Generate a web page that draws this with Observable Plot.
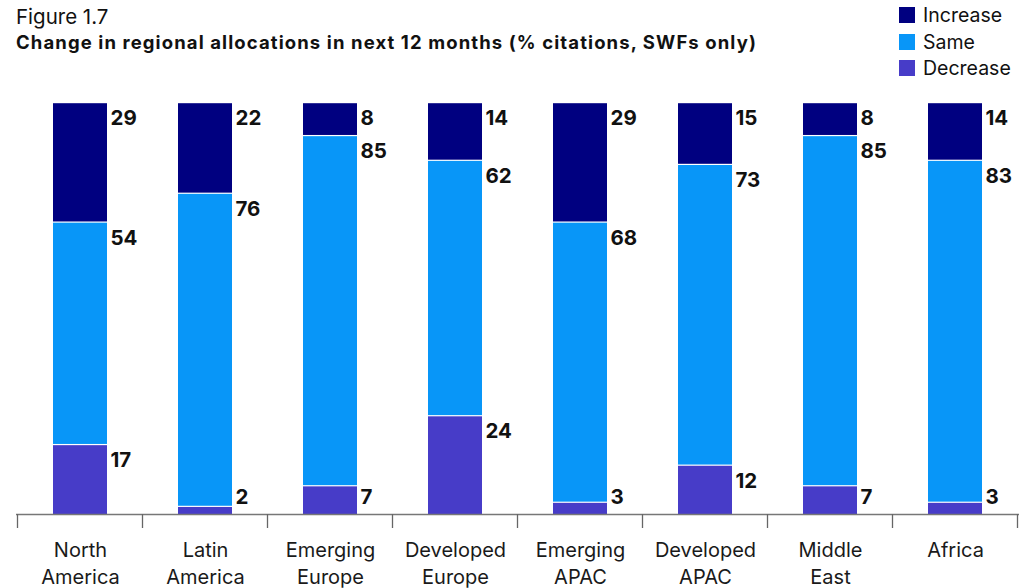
<!DOCTYPE html>
<html>
<head>
<meta charset="utf-8">
<script src="https://cdn.jsdelivr.net/npm/d3@7"></script>
<script src="https://cdn.jsdelivr.net/npm/@observablehq/plot@0.6"></script>
<style>
  html, body { margin: 0; padding: 0; background: #fff; }
  #wrap { position: relative; width: 1019px; height: 588px; font-family: Inter, "Open Sans", sans-serif; color: #111; }
  #fig { position: absolute; left: 16px; top: 4px; font-size: 20.5px; font-weight: 400; }
  #title { position: absolute; left: 16px; top: 31px; font-size: 18.5px; font-weight: 700; white-space: nowrap; }
  #legend { position: absolute; left: 899px; top: 2px; font-size: 19.5px; }
  #legend .row { display: flex; align-items: center; height: 26.5px; }
  #legend .sw { width: 16px; height: 16px; margin-right: 8px; }
  #chart { position: absolute; left: 0; top: 0; }
</style>
</head>
<body>
<div id="wrap">
  <div id="chart"></div>
  <div id="fig">Figure 1.7</div>
  <div id="title">Change in regional allocations in next 12 months (% citations, SWFs only)</div>
  <div id="legend"></div>
</div>
<script>
const regions = ["North America", "Latin America", "Emerging Europe", "Developed Europe", "Emerging APAC", "Developed APAC", "Middle East", "Africa"];
const regionLabels = ["North\nAmerica", "Latin\nAmerica", "Emerging\nEurope", "Developed\nEurope", "Emerging\nAPAC", "Developed\nAPAC", "Middle\nEast", "Africa"];
const decrease = [17, 2, 7, 24, 3, 12, 7, 3];
const same = [54, 76, 85, 62, 68, 73, 85, 83];
const increase = [29, 22, 8, 14, 29, 15, 8, 14];
const seriesNames = ["Decrease", "Same", "Increase"];
const seriesColors = ["#473cc8", "#0896f8", "#000080"];
const legendOrder = ["Increase", "Same", "Decrease"];

const seriesValues = [decrease, same, increase];
const data = [];
const labels = [];
regions.forEach((r, ri) => {
  let cum = 0;
  seriesNames.forEach((s, si) => {
    const v = seriesValues[si][ri];
    data.push({region: r, series: s, value: v});
    cum += v;
    // labels sit at the top of each segment, kept clear of the baseline
    labels.push({region: r, series: s, value: v, top: Math.max(cum, 8)});
  });
});

const boundaries = (index, scales, values, dimensions) => {
  const x = scales.x;
  const half = (x.step() - x.bandwidth()) / 2;
  const g = d3.create("svg:g");
  const y0 = scales.y(0);
  const xs = regions.map(r => x(r) - half);
  xs.push(x(regions[regions.length - 1]) + x.bandwidth() + half);
  for (const xv of xs) {
    g.append("line").attr("x1", xv).attr("x2", xv).attr("y1", y0).attr("y2", y0 + 14)
      .attr("stroke", "#666").attr("stroke-width", 1.3);
  }
  return g.node();
};

const chart = Plot.plot({
  width: 1019,
  height: 588,
  marginTop: 102,
  marginBottom: 74,
  marginLeft: 16,
  marginRight: 0,
  style: {fontFamily: "Inter, 'Open Sans', sans-serif", background: "transparent"},
  x: {domain: regions, paddingInner: 0.57, paddingOuter: 0.285, axis: null},
  y: {domain: [0, 100], axis: null},
  color: {domain: seriesNames, range: seriesColors},
  marks: [
    Plot.barY(data, Plot.stackY({x: "region", y: "value", z: "series", fill: "series", insetTop: 1.2})),
    Plot.text(labels, {x: "region", y: "top", text: d => String(d.value),
      textAnchor: "start", lineAnchor: "middle", dx: 30, dy: 16, fontSize: 20.5, fontWeight: 700, fill: "#111"}),
    Plot.ruleY([0], {stroke: "#777", strokeWidth: 1.5}),
    boundaries,
    Plot.text(regions, {x: d => d, text: (d, i) => regionLabels[i], frameAnchor: "bottom", lineAnchor: "top",
      dy: 24, fontSize: 20, lineHeight: 1.33, fill: "#1a1a1a"})
  ]
});
document.getElementById("chart").appendChild(chart);

// stretch the bold title slightly to the width of the reference typeface
const title = document.getElementById("title");
const w = title.getBoundingClientRect().width;
const n = title.textContent.length;
title.style.letterSpacing = ((741 - w) / n) + "px";

const leg = document.getElementById("legend");
legendOrder.forEach(name => {
  const row = document.createElement("div");
  row.className = "row";
  const sw = document.createElement("div");
  sw.className = "sw";
  sw.style.background = seriesColors[seriesNames.indexOf(name)];
  const t = document.createElement("span");
  t.textContent = name;
  row.appendChild(sw); row.appendChild(t);
  leg.appendChild(row);
});
</script>
</body>
</html>
